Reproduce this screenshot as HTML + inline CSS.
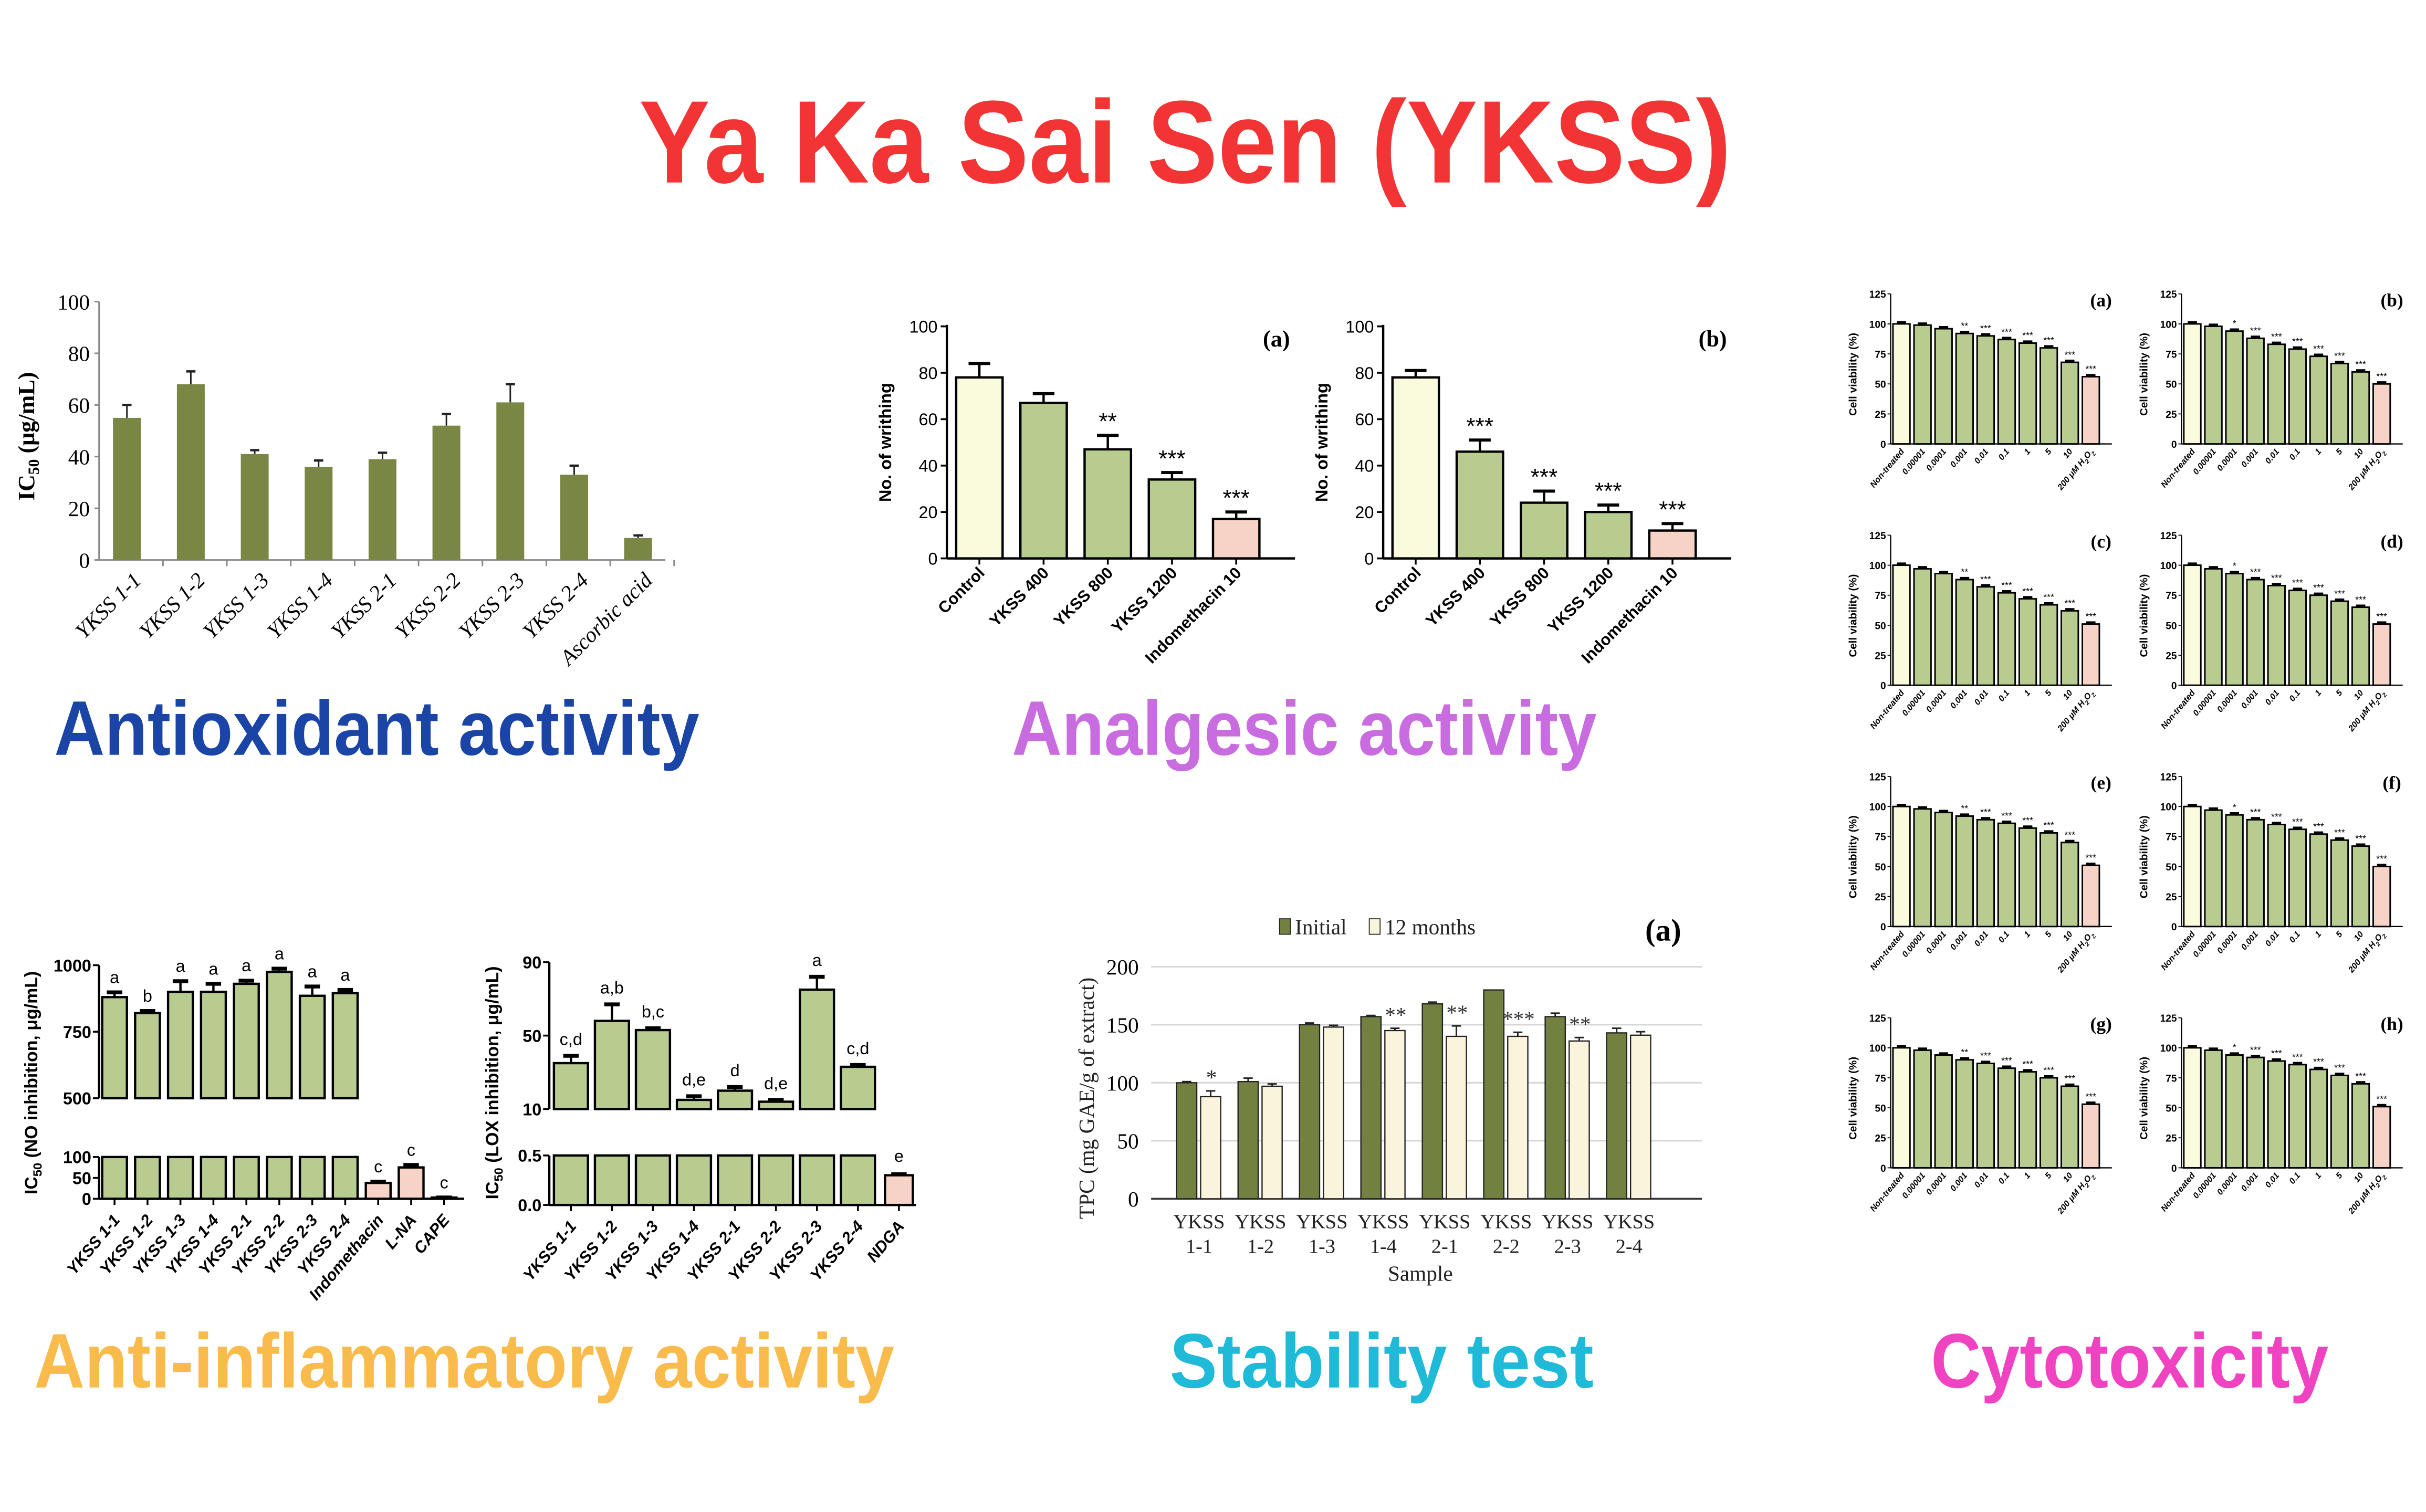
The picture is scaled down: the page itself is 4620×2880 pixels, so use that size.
<!DOCTYPE html>
<html><head><meta charset="utf-8"><style>
html,body{margin:0;padding:0;background:#fff;}
svg{display:block}
</style></head><body>
<svg id="s" xmlns="http://www.w3.org/2000/svg" width="4620" height="2880" viewBox="0 0 1568 977.5">
<rect width="1568" height="977.5" fill="#fff"/>
<text x="766" y="118" text-anchor="middle" font-family="Liberation Sans, sans-serif" font-weight="bold" font-size="76" fill="#f23434" textLength="706" lengthAdjust="spacingAndGlyphs">Ya Ka Sai Sen (YKSS)</text>
<text x="35" y="488" font-family="Liberation Sans, sans-serif" font-weight="bold" font-size="50" fill="#1a44a6" textLength="417" lengthAdjust="spacingAndGlyphs">Antioxidant activity</text>
<text x="654" y="488" font-family="Liberation Sans, sans-serif" font-weight="bold" font-size="50" fill="#c86ce0" textLength="378" lengthAdjust="spacingAndGlyphs">Analgesic activity</text>
<text x="22" y="897" font-family="Liberation Sans, sans-serif" font-weight="bold" font-size="50" fill="#f9bc4c" textLength="556" lengthAdjust="spacingAndGlyphs">Anti-inflammatory activity</text>
<text x="756" y="897" font-family="Liberation Sans, sans-serif" font-weight="bold" font-size="50" fill="#1ebad8" textLength="274" lengthAdjust="spacingAndGlyphs">Stability test</text>
<text x="1248" y="897" font-family="Liberation Sans, sans-serif" font-weight="bold" font-size="50" fill="#f043c2" textLength="257" lengthAdjust="spacingAndGlyphs">Cytotoxicity</text>
<g id="g"></g>
</svg>
<script>
var out=[];
function R(x,y,w,h,f,s,sw){out.push('<rect x="'+x+'" y="'+y+'" width="'+w+'" height="'+h+'" fill="'+f+'"'+(s?' stroke="'+s+'" stroke-width="'+(sw||1)+'"':'')+'/>');}
function L(x1,y1,x2,y2,c,w){out.push('<line x1="'+x1+'" y1="'+y1+'" x2="'+x2+'" y2="'+y2+'" stroke="'+(c||'#000')+'" stroke-width="'+(w||1)+'"/>');}
function T(x,y,t,o){o=o||{};out.push('<text x="'+x+'" y="'+y+'" font-family="'+(o.ff||'Liberation Sans, sans-serif')+'" font-size="'+(o.fs||10)+'"'+(o.b?' font-weight="bold"':'')+(o.i?' font-style="italic"':'')+' text-anchor="'+(o.a||'start')+'" fill="'+(o.c||'#000')+'"'+(o.r?' transform="rotate('+o.r+' '+x+' '+y+')"':'')+'>'+t+'</text>');}
var SER='Liberation Serif, serif';
// Antioxidant
(function(){var x0=64,y0=362,k=1.67;L(x0,195,x0,y0,'#888');L(x0,y0,430,y0,'#888');
for(var v=0;v<=100;v+=20){var y=y0-v*k;L(x0-3,y,x0,y,'#888');T(x0-6,y+5,v,{ff:SER,fs:14,a:'end'});}
var vals=[55,68,41,36,39,52,61,33,8.5],err=[5,5,1.5,2.5,2.5,4.5,7,3.5,1],labs=['YKSS 1-1','YKSS 1-2','YKSS 1-3','YKSS 1-4','YKSS 2-1','YKSS 2-2','YKSS 2-3','YKSS 2-4','Ascorbic acid'];
for(var i=0;i<9;i++){var c=82+i*41.3,h=vals[i]*k;R(c-9,y0-h,18,h,'#7a8644');L(c,y0-h,c,y0-h-err[i]*k,'#222');L(c-3,y0-h-err[i]*k,c+3,y0-h-err[i]*k,'#222',1.5);L(x0+(i+1)*41.3,y0,x0+(i+1)*41.3,y0+4,'#888');
T(c+10,y0+14,labs[i],{ff:SER,fs:14,i:1,a:'end',r:-45});}
T(22,282,'IC<tspan font-size="10" dy="3">50</tspan><tspan dy="-3"> (μg/mL)</tspan>',{ff:SER,fs:15,b:1,a:'middle',r:-90});})();
// Analgesic
function anal(x0,vals,err,stars,tag){var y0=361,k=1.5;L(x0,210,x0,y0,'#000',1.5);L(x0,y0,x0+225,y0,'#000',1.5);
for(var v=0;v<=100;v+=20){var y=y0-v*k;L(x0-4,y,x0,y,'#000',1.2);T(x0-6,y+4,v,{fs:11,a:'end'});}
var cols=['#fafadc','#b8cc90','#b8cc90','#b8cc90','#f6d3c6'],labs=['Control','YKSS 400','YKSS 800','YKSS 1200','Indomethacin 10'];
for(var i=0;i<5;i++){var c=x0+21+i*41.5,h=vals[i]*k;R(c-15,y0-h,30,h,cols[i],'#000',1.5);var e=y0-h-err[i]*k;L(c,y0-h,c,e,'#000',1.5);L(c-7,e,c+7,e,'#000',2);
if(stars[i])T(c,e-4,stars[i],{fs:15,a:'middle'});L(c,y0,c,y0+4,'#000',1.2);T(c+4,y0+10,labs[i],{fs:10.5,b:1,a:'end',r:-45});}
T(x0-36,286,'No. of writhing',{fs:11,b:1,a:'middle',r:-90});T(x0+213,224,tag,{ff:SER,fs:15,b:1,a:'middle'});}
anal(612,[78,67,47,34,17],[6,4,6,3,3],['','','**','***','***'],'(a)');
anal(894,[78,46,24,20,12],[3,5,5,3,3],['','***','***','***','***'],'(b)');
// NO inhibition
(function(){var x0=64,tt=624,tb=710,bt=748,bb=775;L(x0,tt,x0,tb,'#000',1.5);L(x0,bt,x0,bb,'#000',1.5);L(x0,bb,300,bb,'#000',1.5);
var ty=function(v){return tb-(v-500)/500*(tb-tt)},by=function(v){return bb-v/100*(bb-bt)};
[[1000,ty(1000)],[750,ty(750)],[500,tb],[100,bt],[50,by(50)],[0,bb]].forEach(function(p){L(x0-4,p[1],x0,p[1],'#000',1.2);T(x0-5,p[1]+4,p[0],{fs:11,b:1,a:'end'});});
var vals=[880,820,900,900,930,975,885,895],err=[18,8,40,30,12,12,35,12],let=['a','b','a','a','a','a','a','a'];
for(var i=0;i<8;i++){var c=74+i*21.3;R(c-8,ty(vals[i]),16,tb-ty(vals[i]),'#b8cc90','#000',1.5);R(c-8,bt,16,bb-bt,'#b8cc90','#000',1.5);var e=ty(vals[i]+err[i]);L(c,ty(vals[i]),c,e,'#000',1.5);L(c-5,e,c+5,e,'#000',2.5);T(c,e-6,let[i],{fs:11,a:'middle'});}
var o=[[38,3],[75,6],[3,0]];for(var j=0;j<3;j++){var c=74+(8+j)*21.3,v=o[j][0];R(c-8,by(v),16,bb-by(v),'#f6d3c6','#000',1.5);var e=by(v+o[j][1]);L(c-5,e,c+5,e,'#000',2.5);T(c,e-6,'c',{fs:11,a:'middle'});}
var labs=['YKSS 1-1','YKSS 1-2','YKSS 1-3','YKSS 1-4','YKSS 2-1','YKSS 2-2','YKSS 2-3','YKSS 2-4','Indomethacin','L-NA','CAPE'];
for(var i=0;i<11;i++){var c=74+i*21.3;L(c,bb,c,bb+4,'#000',1.2);T(c+4,bb+14,labs[i],{fs:10.5,b:1,i:1,a:'end',r:-50});}
T(24,700,'IC<tspan font-size="8" dy="3">50</tspan><tspan dy="-3"> (NO inhibition, μg/mL)</tspan>',{fs:11.5,b:1,a:'middle',r:-90});})();
// LOX
(function(){var x0=355,tt=622,tb=717,bt=747,bb=779;L(x0,tt,x0,tb,'#000',1.5);L(x0,bt,x0,bb,'#000',1.5);L(x0,bb,592,bb,'#000',1.5);
var ty=function(v){return tb-(v-10)/80*(tb-tt)},by=function(v){return bb-v/0.5*(bb-bt)};
[[90,tt],[50,ty(50)],[10,tb],['0.5',bt],['0.0',bb]].forEach(function(p){L(x0-4,p[1],x0,p[1],'#000',1.2);T(x0-5,p[1]+4,p[0],{fs:11,b:1,a:'end'});});
var vals=[35,58,53,15,20,14,75,33],err=[4,9,1,2,2,1,7,1],let=['c,d','a,b','b,c','d,e','d','d,e','a','c,d'];
for(var i=0;i<8;i++){var c=369+i*26.5;R(c-11,ty(vals[i]),22,tb-ty(vals[i]),'#b8cc90','#000',1.5);R(c-11,bt,22,bb-bt,'#b8cc90','#000',1.5);var e=ty(vals[i]+err[i]);L(c,ty(vals[i]),c,e,'#000',1.5);L(c-5,e,c+5,e,'#000',2.5);T(c,e-7,let[i],{fs:11,a:'middle'});}
var c=369+8*26.5;R(c-9,by(0.3),18,bb-by(0.3),'#f6d3c6','#000',1.5);L(c-5,by(0.31),c+5,by(0.31),'#000',2.5);T(c,by(0.31)-8,'e',{fs:11,a:'middle'});
var labs=['YKSS 1-1','YKSS 1-2','YKSS 1-3','YKSS 1-4','YKSS 2-1','YKSS 2-2','YKSS 2-3','YKSS 2-4','NDGA'];
for(var i=0;i<9;i++){var c=369+i*26.5;L(c,bb,c,bb+4,'#000',1.2);T(c+4,bb+14,labs[i],{fs:10.5,b:1,i:1,a:'end',r:-50});}
T(322,700,'IC<tspan font-size="8" dy="3">50</tspan><tspan dy="-3"> (LOX inhibition, μg/mL)</tspan>',{fs:11.5,b:1,a:'middle',r:-90});})();
// Stability
(function(){var x0=744,y0=775,k=0.75;
for(var v=0;v<=200;v+=50){var y=y0-v*k;if(v)L(x0,y,1100,y,'#d6d6d6',1);T(x0-8,y+5,v,{ff:SER,fs:14,a:'end'});}
L(x0,y0,1100,y0,'#333',1.2);
var d=[[100,88,1,5],[101,97,3,2],[150,148,1.5,1.5],[157,145,1,2],[168,140,1.5,9],[180,140,0,3.5],[157,136,3,3],[143,141,4,3]],st=['*','','','**','**','***','**',''];
for(var i=0;i<8;i++){var c=775+i*39.7,a=d[i];R(c-14.5,y0-a[0]*k,13,a[0]*k,'#738140','#222',0.8);R(c+1,y0-a[1]*k,13,a[1]*k,'#fbf4dc','#222',0.8);
if(a[2]){L(c-8,y0-a[0]*k,c-8,y0-(a[0]+a[2])*k,'#222');L(c-11,y0-(a[0]+a[2])*k,c-5,y0-(a[0]+a[2])*k,'#222');}
L(c+7.5,y0-a[1]*k,c+7.5,y0-(a[1]+a[3])*k,'#222');L(c+4.5,y0-(a[1]+a[3])*k,c+10.5,y0-(a[1]+a[3])*k,'#222');
if(st[i])T(c+8,y0-(a[1]+a[3])*k-4,st[i],{ff:SER,fs:14,a:'middle',c:i?'#333':'#222'});
T(c,y0+19,'YKSS',{ff:SER,fs:13,a:'middle',c:'#222'});T(c,y0+35,['1-1','1-2','1-3','1-4','2-1','2-2','2-3','2-4'][i],{ff:SER,fs:13,a:'middle',c:'#222'});}
T(918,828,'Sample',{ff:SER,fs:14,a:'middle',c:'#222'});
T(707,710,'TPC (mg GAE/g of extract)',{ff:SER,fs:14,a:'middle',r:-90,c:'#222'});
R(827,594,7,10,'#738140','#222',0.6);T(837,604,'Initial',{ff:SER,fs:14,c:'#222'});R(885,594,7,10,'#fbf4dc','#222',0.6);T(895,604,'12 months',{ff:SER,fs:14,c:'#222'});
T(1075,608,'(a)',{ff:SER,fs:20,b:1,a:'middle'});})();
// Cytotoxicity
var cv=[[100,99,96,92,90,87,84,80,68,56],[100,98,94,88,83,79,73,67,60,50],[100,97,93,88,82,77,72,67,62,51],[100,97,93,88,83,79,75,70,65,51],[100,98,95,92,89,86,82,78,70,51],[100,97,93,89,85,81,77,72,67,50],[100,98,94,90,87,83,80,75,68,53],[100,98,94,92,89,86,82,77,70,51]];
var tags=['(a)','(b)','(c)','(d)','(e)','(f)','(g)','(h)'];
var cst=[['','','','**','***','***','***','***','***','***'],['','','*','***','***','***','***','***','***','***']];
var xl=['Non-treated','0.00001','0.0001','0.001','0.01','0.1','1','5','10','200 μM H<tspan font-size="4" dy="2">2</tspan><tspan dy="-2">O</tspan><tspan font-size="4" dy="2">2</tspan>'];
for(var p=0;p<8;p++){var x0=p%2?1410:1222,yb=287+Math.floor(p/2)*156,yt=yb-97,k=97/125;
L(x0,yt,x0,yb,'#000',0.8);L(x0,yb,x0+143,yb,'#000',0.8);
[0,25,50,75,100,125].forEach(function(v){var y=yb-v*k;L(x0-2,y,x0,y,'#000',0.6);T(x0-3,y+2.5,v,{fs:6.5,b:1,a:'end'});});
T(x0-22,yb-45,'Cell viability (%)',{fs:7,b:1,a:'middle',r:-90});
T(x0+136,yt+8,tags[p],{ff:SER,fs:12,b:1,a:'middle'});
for(var i=0;i<10;i++){var c=x0+7+i*13.6,v=cv[p][i];R(c-5.5,yb-v*k,11,v*k,i==0?'#fafadc':(i==9?'#f6d3c6':'#b8cc90'),'#000',1);L(c-3,yb-v*k-1,c+3,yb-v*k-1,'#000',1.5);
var s=cst[p%2][i];if(s)T(c,yb-v*k-3,s,{fs:6,a:'middle'});T(c+2,yb+5,xl[i],{fs:5.5,b:1,i:1,a:'end',r:-50});}}
document.getElementById('g').innerHTML=out.join('');
</script>
</body></html>
